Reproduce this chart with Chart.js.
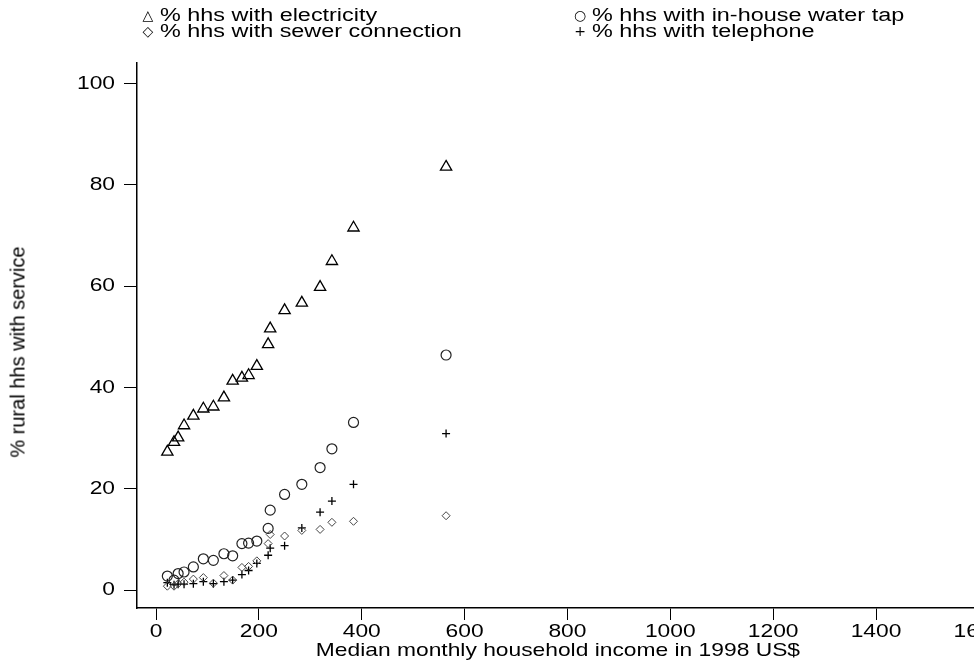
<!DOCTYPE html>
<html>
<head>
<meta charset="utf-8">
<script src="https://cdn.jsdelivr.net/npm/chart.js@4/dist/chart.umd.min.js"></script>
<style>
  html, body { margin: 0; padding: 0; background: #fff; overflow: hidden; }
  #wrap { position: relative; width: 974px; height: 662px; overflow: hidden; }
  #wrap canvas { position: absolute; left: 0; top: 0; }
  .leg { position: absolute; font-family: "Liberation Sans", Arial, sans-serif; font-size: 18px; color: #000; white-space: nowrap; line-height: 18px; transform: scaleX(1.3); transform-origin: left center; }
  .mk { position: absolute; width: 14px; text-align: center; font-family: "DejaVu Sans", sans-serif; font-size: 14px; line-height: 18px; color: #000; }
  #ytitle { position: absolute; left: 18px; top: 352px; font-family: "Liberation Sans", Arial, sans-serif; font-size: 20px; color: #000; white-space: nowrap; transform: translate(-50%, -50%) rotate(-90deg); }
</style>
</head>
<body>
<div id="wrap">
  <canvas id="chart" width="1000" height="662" style="width:1000px;height:662px"></canvas>
  <div class="mk" style="left:141px;top:6px">△</div><div class="leg" style="left:160px;top:6px">% hhs with electricity</div>
  <div class="mk" style="left:573px;top:6px">○</div><div class="leg" style="left:592px;top:6px">% hhs with in-house water tap</div>
  <div class="mk" style="left:141px;top:22px">◇</div><div class="leg" style="left:160px;top:22px">% hhs with sewer connection</div>
  <div class="mk" style="left:573px;top:22px">+</div><div class="leg" style="left:592px;top:22px">% hhs with telephone</div>
  <div id="ytitle">% rural hhs with service</div>
</div>
<script>
// median monthly income per group (1998 US$)
var income = [22, 35, 43, 54.5, 72.6, 92, 111.5, 132, 149, 167, 180, 196, 218, 222, 250, 283.5, 319, 342, 384, 564];

var electricity = [27.3, 29.2, 30.1, 32.5, 34.4, 35.8, 36.2, 38.0, 41.3, 41.9, 42.4, 44.2, 48.5, 51.6, 55.2, 56.7, 59.8, 64.9, 71.5, 83.5];
var waterTap    = [2.8, 2.0, 3.3, 3.6, 4.6, 6.2, 5.9, 7.2, 6.8, 9.2, 9.3, 9.7, 12.2, 15.8, 18.9, 20.9, 24.2, 27.9, 33.1, 46.4];
var sewer       = [0.8, 0.8, 1.3, 1.6, 2.2, 2.5, 1.4, 2.9, 2.0, 4.5, 4.7, 5.8, 9.2, 11.0, 10.7, 11.8, 12.0, 13.4, 13.6, 14.7];
var telephone   = [1.5, 1.1, 1.2, 1.2, 1.3, 1.7, 1.3, 1.7, 2.0, 3.1, 3.9, 5.3, 6.9, 8.3, 8.8, 12.3, 15.4, 17.6, 20.9, 30.9];

var xTicks = [0, 200, 400, 600, 800, 1000, 1200, 1400, 1600];
var yTicks = [0, 20, 40, 60, 80, 100];

function pts(ys) {
  return income.map(function (x, i) { return { x: x, y: ys[i] }; });
}

var tickFont = { family: "'Liberation Sans', Arial, sans-serif", size: 19 };
var titleFont = { family: "'Liberation Sans', Arial, sans-serif", size: 19 };

// the original graph has its text stretched sideways, widen horizontal labels a bit
var wideText = {
    id: 'wideText',
    beforeDraw: function (chart) {
        var ctx = chart.ctx;
        if (ctx._plainFillText) return;
        var plain = ctx.fillText;
        ctx._plainFillText = plain;
        ctx.fillText = function (text, x, y, maxWidth) {
            var m = this.getTransform();
            if (m.b !== 0 || m.c !== 0) return plain.apply(this, arguments);
            this.save();
            this.translate(x, y);
            this.scale(1.2, 1);
            plain.call(this, text, 0, 0);
            this.restore();
        };
    }
};

new Chart(document.getElementById('chart'), {
    type: 'scatter',
    data: {
        datasets: [
            { label: '% hhs with electricity', data: pts(electricity), pointStyle: 'triangle', pointRadius: 6.5, borderColor: '#000', backgroundColor: 'rgba(0,0,0,0)', borderWidth: 1.3 },
            { label: '% hhs with in-house water tap', data: pts(waterTap), pointStyle: 'circle', pointRadius: 5, borderColor: '#222', backgroundColor: 'rgba(0,0,0,0)', borderWidth: 1.2 },
            { label: '% hhs with sewer connection', data: pts(sewer), pointStyle: 'rectRot', pointRadius: 4, borderColor: '#444', backgroundColor: 'rgba(0,0,0,0)', borderWidth: 1 },
            { label: '% hhs with telephone', data: pts(telephone), pointStyle: 'cross', pointRadius: 4, borderColor: '#000', backgroundColor: 'rgba(0,0,0,0)', borderWidth: 1.3 }
        ]
    },
    plugins: [wideText],
    options: {
        responsive: false,
        animation: false,
        layout: { padding: { top: 63, left: 0, right: 0, bottom: 0 } },
        plugins: {
            legend: { display: false },
            tooltip: { enabled: false }
        },
        scales: {
            x: {
                type: 'linear',
                min: -37,
                max: 1600,
                afterBuildTicks: function (s) { s.ticks = xTicks.map(function (v) { return { value: v }; }); },
                afterFit: function (s) { s.height = 54; },
                grid: { drawOnChartArea: false, color: '#000', tickLength: 12, lineWidth: 1 },
                border: { color: '#000', width: 1.5 },
                ticks: { color: '#000', font: tickFont, padding: 0, maxRotation: 0, callback: function (v) { return String(v); } },
                title: { display: true, text: 'Median monthly household income in 1998 US$', color: '#000', font: titleFont, padding: { top: 0, bottom: 0 } }
            },
            y: {
                type: 'linear',
                min: -3.5,
                max: 104,
                afterBuildTicks: function (s) { s.ticks = yTicks.map(function (v) { return { value: v }; }); },
                afterFit: function (s) { s.width = 137; },
                grid: { drawOnChartArea: false, color: '#000', tickLength: 13, lineWidth: 1 },
                border: { color: '#000', width: 1.5 },
                ticks: { color: '#000', font: tickFont, padding: 9, callback: function (v) { return String(v); } }
            }
        }
    }
});
</script>
</body>
</html>
